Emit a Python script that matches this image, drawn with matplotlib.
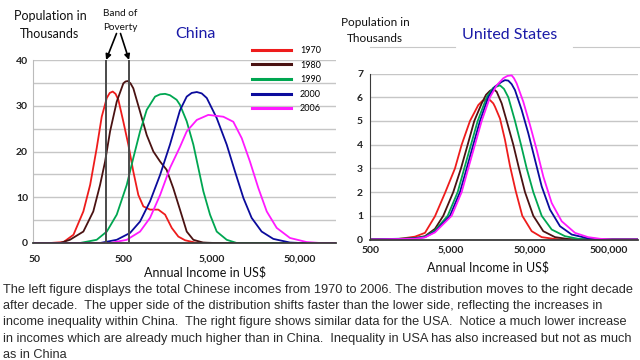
import matplotlib
matplotlib.use("Agg")
import matplotlib.pyplot as plt
from matplotlib.lines import Line2D
from matplotlib.ticker import FixedLocator, NullLocator

# ---- series (income in US$, population in thousands) ----
YEARS = ["1970", "1980", "1990", "2000", "2006"]
COLORS = ["#ee1c1c", "#4a1212", "#00a651", "#0b0b9c", "#ff1aff"]

china_1970_x = [47, 74, 105, 136, 176, 210, 249, 284, 324, 350, 378, 407, 438, 499, 568, 647,
                737, 840, 1000, 1240, 1480, 1760, 2090, 2490, 3230, 4770, 127000]
china_1970_y = [0, 0, 0.2, 1.8, 6.9, 12.7, 20.7, 27.6, 31.7, 32.8, 33.1, 32.6, 31.3, 26.5, 21.5, 15.6,
                10.5, 8.0, 7.3, 7.3, 6.2, 3.3, 1.4, 0.6, 0.1, 0, 0]
china_1980_x = [47, 96, 124, 176, 228, 272, 310, 353, 420, 499, 528, 559, 601, 647, 771, 917,
                1090, 1300, 1540, 1830, 2180, 2600, 3090, 3970, 5400, 127000]
china_1980_y = [0, 0, 0.7, 2.5, 6.9, 12.7, 17.8, 24.4, 30.9, 34.9, 35.3, 35.4, 34.9, 33.8, 28.7, 23.6,
                20.0, 17.8, 16.0, 12.0, 7.3, 2.5, 0.7, 0.1, 0, 0]
china_1990_x = [47, 161, 249, 324, 420, 545, 647, 771, 917, 1140, 1300, 1480, 1680, 2000, 2180,
                2600, 3090, 3520, 4010, 4770, 5680, 7370, 9560, 127000]
china_1990_y = [0, 0, 0.7, 2.5, 6.2, 12.7, 18.6, 24.4, 29.1, 32.0, 32.5, 32.6, 32.3, 31.3, 30.2,
                26.6, 21.5, 16.4, 11.3, 6.2, 2.5, 0.7, 0, 0]
china_2000_x = [47, 272, 420, 594, 771, 1000, 1300, 1680, 2180, 2600, 2960, 3380, 3840, 4380,
                5680, 7370, 9150, 11400, 14100, 18300, 24800, 38300, 50000, 127000]
china_2000_y = [0, 0, 0.7, 2.2, 4.7, 9.1, 14.9, 21.5, 29.0, 32.0, 32.8, 33.0, 32.7, 31.7,
                27.3, 21.5, 15.6, 9.8, 5.5, 2.5, 0.9, 0.1, 0, 0]
china_2006_x = [47, 353, 545, 771, 1000, 1300, 1680, 2180, 2600, 3380, 4560, 6750, 8750,
                10900, 13500, 16800, 20900, 27100, 38300, 59200, 84000, 127000]
china_2006_y = [0, 0, 0.7, 2.5, 5.5, 10.5, 16.4, 21.0, 24.4, 26.9, 28.0, 27.6, 26.5,
                22.9, 17.8, 12.0, 6.9, 3.3, 1.1, 0.2, 0, 0]
POVERTY_BAND = [318, 579]

us_1970_x = [486, 1094, 1791, 2393, 3199, 4276, 5713, 6939, 8828, 11229, 12685, 14330, 15766,
             17348, 18226, 21071, 24362, 28160, 33220, 40225, 52830, 70600, 103870, 127800,
             1153000]
us_1970_y = [0, 0.02, 0.12, 0.28, 0.98, 1.96, 3.0, 4.0, 5.0, 5.67, 5.85, 5.91, 5.88,
             5.74, 5.6, 5.1, 4.2, 3.1, 2.05, 1.0, 0.35, 0.1, 0.02, 0,
             0]
us_1980_x = [486, 1094, 1791, 2393, 3199, 4069, 5438, 6799, 8259, 10000, 12396, 14040, 15766,
             17348, 19150, 22136, 25595, 30985, 36555, 43500, 55360, 73950, 103870,
             151400, 185500, 1153000]
us_1980_y = [0, 0.01, 0.06, 0.14, 0.45, 1.0, 2.0, 3.0, 4.0, 5.0, 5.74, 6.1, 6.27,
             6.35, 6.23, 5.74, 5.0, 4.0, 3.0, 2.0, 1.0, 0.35, 0.1,
             0.02, 0, 0]
us_1990_x = [486, 1791, 2393, 3199, 4624, 6179, 7483, 9087, 11036, 14330, 17348, 21071,
             23660, 26807, 32555, 38740, 45710, 55360, 70600, 94370, 138700, 202400, 270400,
             1153000]
us_1990_y = [0, 0.05, 0.12, 0.38, 1.0, 2.0, 3.0, 4.0, 5.0, 6.0, 6.4, 6.5,
             6.35, 6.0, 5.0, 4.0, 3.0, 2.0, 1.0, 0.42, 0.14, 0.03, 0,
             0]
us_2000_x = [486, 1791, 2393, 3199, 4943, 6607, 8023, 9716, 11799, 15010, 18226, 22136,
             24362, 26807, 29580, 32555, 39535, 47870, 58160, 70600, 89850, 120100, 168500,
             270400, 442600, 1153000]
us_2000_y = [0, 0.04, 0.1, 0.33, 1.0, 2.0, 3.0, 4.0, 5.0, 6.0, 6.45, 6.65,
             6.72, 6.7, 6.55, 6.3, 5.46, 4.48, 3.36, 2.24, 1.26, 0.56, 0.21,
             0.05, 0, 0]
us_2006_x = [486, 1791, 2393, 3199, 5189, 6939, 8403, 10206, 12396, 15766, 19150, 23185,
             26190, 29580, 31620, 34195, 41405, 50290, 61100, 73950, 94370, 126100, 185500,
             270400, 382800, 542600, 1153000]
us_2006_y = [0, 0.03, 0.09, 0.3, 1.0, 2.0, 3.0, 4.0, 5.0, 6.0, 6.5, 6.8,
             6.9, 6.92, 6.8, 6.58, 5.81, 4.83, 3.78, 2.66, 1.54, 0.77, 0.28,
             0.1, 0.03, 0, 0]

CHINA_X = [china_1970_x, china_1980_x, china_1990_x, china_2000_x, china_2006_x]
CHINA_Y = [china_1970_y, china_1980_y, china_1990_y, china_2000_y, china_2006_y]
US_X = [us_1970_x, us_1980_x, us_1990_x, us_2000_x, us_2006_x]
US_Y = [us_1970_y, us_1980_y, us_1990_y, us_2000_y, us_2006_y]

CHINA_XTICKS = [50, 500, 5000, 50000]
US_XTICKS = [500, 5000, 50000, 500000]

CAPTION = [
    "The left figure displays the total Chinese incomes from 1970 to 2006. The distribution moves to the right decade",
    "after decade.  The upper side of the distribution shifts faster than the lower side, reflecting the increases in",
    "income inequality within China.  The right figure shows similar data for the USA.  Notice a much lower increase",
    "in incomes which are already much higher than in China.  Inequality in USA has also increased but not as much",
    "as in China",
]

W, H = 640, 360
FONT = "Lato"
GRID = "#c6c6c6"


def fx(px):
    return px / W


def fy(py):
    return 1 - py / H


def style_axis(ax, xticks, xlim, ylim, ymajor, yminor, xpad, ypad, left_color):
    ax.set_xscale("log")
    ax.set_xlim(*xlim)
    ax.set_ylim(*ylim)
    ax.xaxis.set_major_locator(FixedLocator(xticks))
    ax.xaxis.set_minor_locator(NullLocator())
    ax.set_xticklabels([f"{t:,}" for t in xticks])
    ax.yaxis.set_major_locator(FixedLocator(ymajor))
    ax.yaxis.set_minor_locator(FixedLocator(yminor))
    ax.grid(True, which="both", axis="y", color=GRID, lw=1.0)
    ax.set_axisbelow(True)
    ax.tick_params(which="both", length=0, labelsize=7.5, colors="#222222")
    ax.tick_params(axis="x", pad=xpad)
    ax.tick_params(axis="y", pad=ypad)
    for lab in ax.get_xticklabels() + ax.get_yticklabels():
        lab.set_fontweight("bold")
        lab.set_family(FONT)
    ax.spines["top"].set_visible(False)
    ax.spines["right"].set_visible(False)
    ax.spines["bottom"].set_color("#3a3a3a")
    ax.spines["bottom"].set_linewidth(1.3)
    ax.spines["left"].set_color(left_color)
    ax.patch.set_alpha(0)


fig = plt.figure(figsize=(6.4, 3.6), dpi=100)
fig.patch.set_facecolor("white")

# ---- China ----
ax1 = fig.add_axes([fx(33), fy(243), 303 / W, 183 / H])
for xs, ys, c in zip(CHINA_X, CHINA_Y, COLORS):
    ax1.plot(xs, ys, color=c, lw=1.3, solid_joinstyle="round", zorder=2)
ax1.vlines(POVERTY_BAND, 0, 40, color="#4a4a4a", lw=1.4, zorder=3)
style_axis(ax1, CHINA_XTICKS, (47.4, 127000), (0, 40), [0, 10, 20, 30, 40],
           [5, 15, 25, 35], 8.5, 3.5, "#bbbbbb")

for xp, tip_px in zip(POVERTY_BAND, [116.5, 120.5]):
    ax1.annotate("", xy=(xp, 40), xycoords="data",
                 xytext=(fx(tip_px), fy(33.5)), textcoords="figure fraction",
                 arrowprops=dict(arrowstyle="-|>", color="black", lw=1.2,
                                 mutation_scale=8, shrinkA=0, shrinkB=0),
                 annotation_clip=False)

handles = [Line2D([], [], color=c, lw=2.2) for c in COLORS]
ax1.legend(handles, YEARS, loc="upper left", bbox_to_anchor=(fx(252), fy(46)),
           bbox_transform=fig.transFigure, frameon=False, handlelength=4.3,
           handletextpad=1.0, labelspacing=0.62, borderpad=0, borderaxespad=0,
           prop={"family": FONT, "size": 6.5})

# ---- United States ----
ax2 = fig.add_axes([fx(370), fy(239.5), 268 / W, 166 / H])
for xs, ys, c in zip(US_X, US_Y, COLORS):
    ax2.plot(xs, ys, color=c, lw=1.3, solid_joinstyle="round", zorder=2)
style_axis(ax2, US_XTICKS, (486, 1153000), (0, 7), list(range(0, 8)), [],
           4.5, 5.0, "#3a3a3a")

# ---- texts ----
txt = dict(ha="center", va="center", family=FONT, color="#111111")
fig.text(fx(50), fy(16), "Population in", fontsize=9, **txt)
fig.text(fx(49), fy(34), "Thousands", fontsize=9, **txt)
fig.text(fx(120), fy(14), "Band of", fontsize=7.2, **txt)
fig.text(fx(120), fy(28), "Poverty", fontsize=7.2, **txt)
fig.text(fx(195), fy(34), "China", fontsize=11.5, ha="center", va="center",
         family=FONT, color="#1a1aa8")
fig.text(fx(205), fy(272), "Annual Income in US$", fontsize=9, **txt)

fig.text(fx(375), fy(22), "Population in", fontsize=8.5, **txt)
fig.text(fx(375), fy(39), "Thousands", fontsize=8.5, **txt)
fig.text(fx(510), fy(35), "United States", fontsize=11.5, ha="center", va="center",
         family=FONT, color="#1a1aa8")
fig.text(fx(488), fy(267), "Annual Income in US$", fontsize=9, **txt)

for x0, x1 in [(370, 455), (573, 640)]:
    fig.add_artist(Line2D([fx(x0), fx(x1)], [fy(47), fy(47)], color="#c8c8c8", lw=0.8))

for i, line in enumerate(CAPTION):
    fig.text(fx(3), fy(290 + 16.2 * i), line, ha="left", va="center",
             family="Liberation Sans", fontsize=9.2, color="#2a2a2a")

fig.savefig("out.png", dpi=100)
